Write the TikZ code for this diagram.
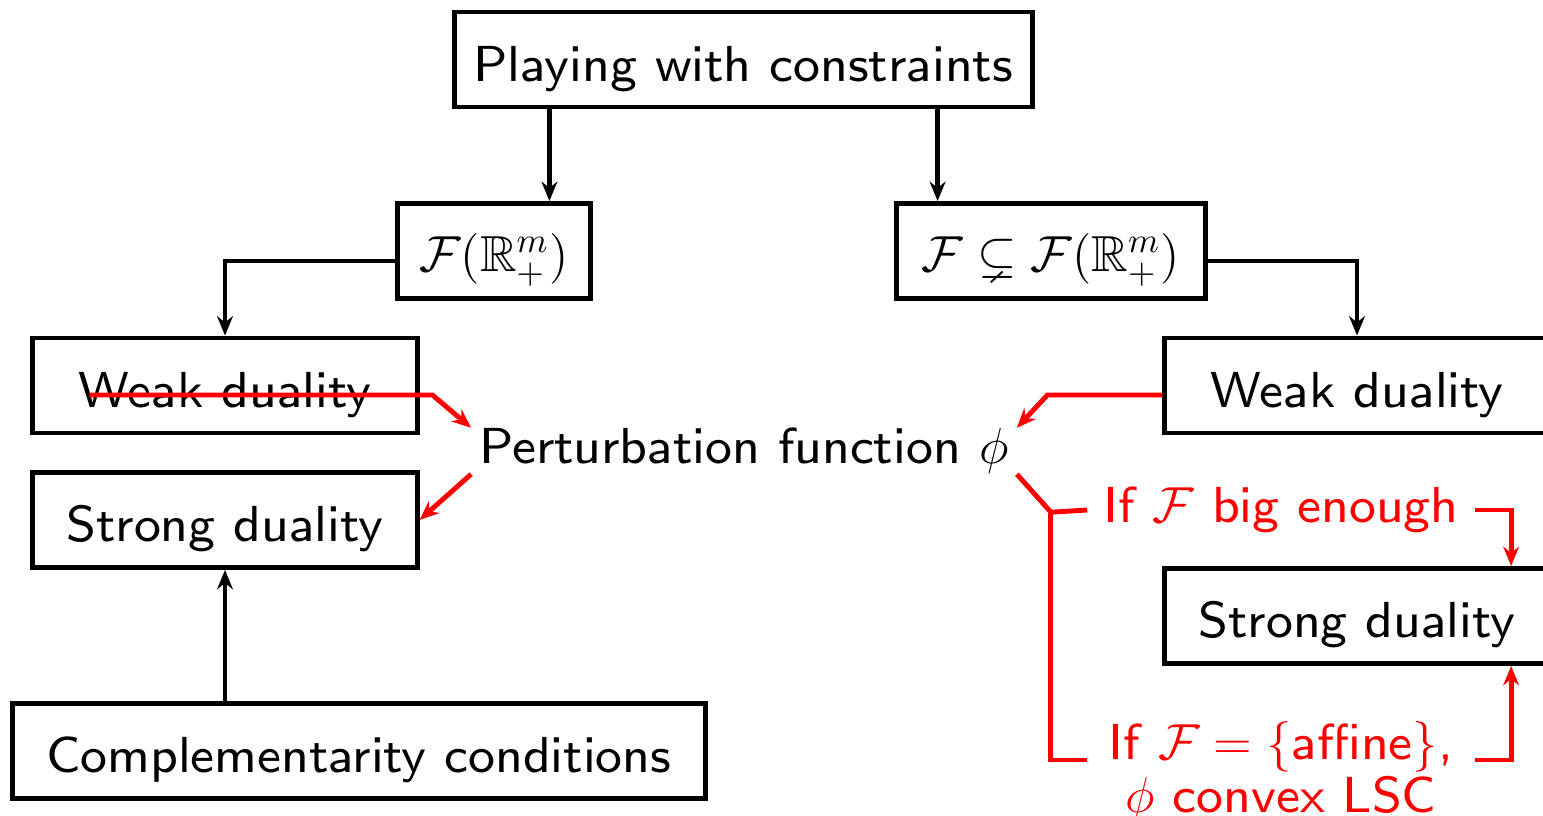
\documentclass[tikz,border=0pt]{standalone}
\usepackage{amssymb}
\usetikzlibrary{arrows.meta,calc}

% the 8pt design of cm sans, at any size
\DeclareFontFamily{OT1}{cmsseight}{}
\DeclareFontShape{OT1}{cmsseight}{m}{n}{<-> cmss8}{}
\newcommand{\boxtext}[1]{\raisebox{-0.09cm}[\height][\depth]{#1}}

\tikzset{
	box/.style={draw, line width=1.4pt, minimum height=0.95cm, inner sep=0pt},
	link/.style={line width=1.2pt, -{Stealth[length=5.5pt,width=4.5pt]}},
	redlink/.style={red, line width=1.4pt, -{Stealth[length=5.5pt,width=4.5pt]}},
	redline/.style={red, line width=1.4pt}
}

\begin{document}
\begin{tikzpicture}[x=0.01cm, y=0.01cm, font=\fontencoding{OT1}\fontfamily{cmsseight}\fontsize{14.4}{15.2}\selectfont]
		\useasboundingbox (0,0) rectangle (1543,-816);
		
		% Top
		\node[box, minimum width=5.77cm] (top) at (743.5,-59.5) {\boxtext{Playing with constraints}};
		\node[box, minimum width=1.92cm] (full) at (494,-251) {\boxtext{$\mathcal{F}(\mathbb{R}^m_+)$}};
		\node[box, minimum width=3.08cm] (sub) at (1051,-251) {\boxtext{$\mathcal{F}\subsetneq\mathcal{F}(\mathbb{R}^m_+)$}};
		\coordinate (tl) at ($(top.south west)!1/6!(top.south east)$);
		\coordinate (tr) at ($(top.south west)!5/6!(top.south east)$);
		\draw[link] (tl) -- (tl |- full.north);
		\draw[link] (tr) -- (tr |- sub.north);
		
		% Left side
		\node[box, minimum width=3.84cm] (weakL) at (225,-385.5) {\boxtext{Weak duality}};
		\node[box, minimum width=3.84cm] (strongL) at (225,-520) {\boxtext{Strong duality}};
		\node[box, minimum width=6.92cm] (compl) at (359,-751) {\boxtext{Complementarity conditions}};
		\draw[link] ([yshift=-0.1cm]full.west) -| (weakL.north);
		\draw[link] (compl.north -| strongL.south) -- (strongL.south);
		
		% Right side
		\node[box, minimum width=3.84cm] (weakR) at (1357,-385.5) {\boxtext{Weak duality}};
		\node[box, minimum width=3.84cm] (strongR) at (1357,-616) {\boxtext{Strong duality}};
		\draw[link] ([yshift=-0.1cm]sub.east) -| (weakR.north);
		
		% Perturbation
		\node[inner sep=0pt, minimum width=5.44cm, minimum height=0.42cm] (pert) at (744,-451) {Perturbation function $\phi$};
		\node[red, inner sep=0pt, minimum width=3.86cm, minimum height=0.4cm] (big) at (1281,-510) {If $\mathcal{F}$ big enough};
		\node[red, inner sep=0pt, minimum width=3.86cm, align=center] (aff) at (1281,-772) {If $\mathcal{F}=\{$affine$\}$,\\$\phi$ convex LSC};
		
		\coordinate (s1) at ([shift={(59,-9.5)}]weakL.west);
		\draw[redlink] (s1) -- ++(343,0) -- (pert.north west);
		\draw[redlink] (pert.south west) -- (strongL.east);
		\draw[redlink] ([yshift=-0.095cm]weakR.west) -- ++(-115,0) -- (pert.north east);
		
		\coordinate (j) at ([shift={(34,-38)}]pert.south east);
		\draw[redline] (pert.south east) -- (j) -- (big.west);
		\draw[redline] (j) |- ([yshift=0.12cm]aff.west);
		\draw[redlink] (big.east) -| ([xshift=1.54cm]strongR.north);
		\draw[redlink] ([yshift=0.12cm]aff.east) -| ([xshift=1.54cm]strongR.south);
	\end{tikzpicture}
\end{document}
